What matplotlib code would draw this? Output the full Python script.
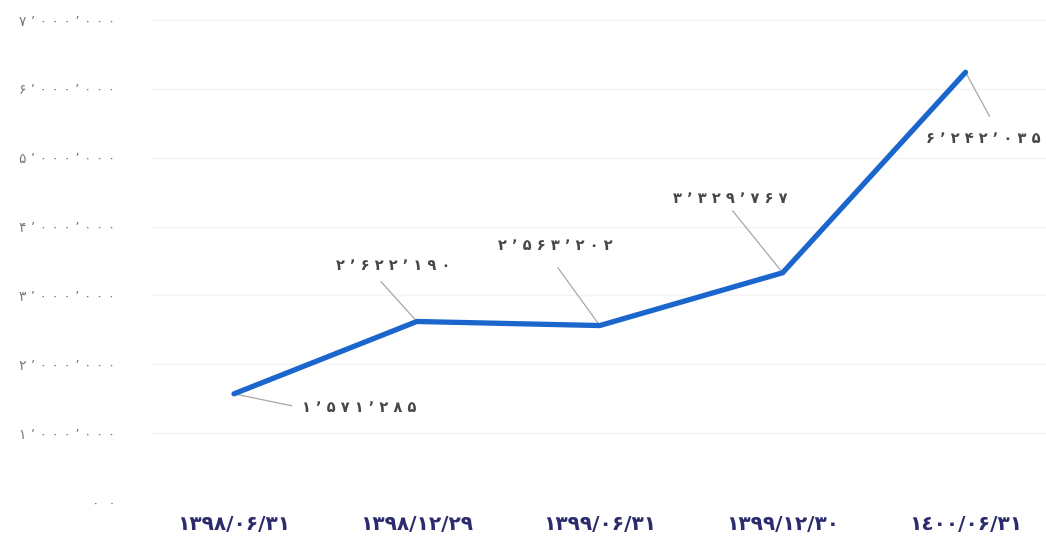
import matplotlib
matplotlib.use("Agg")
import matplotlib.pyplot as plt

plt.rcParams['font.family'] = ['DejaVu Sans']

# Reporting dates (Solar Hijri) and the values at each date
dates = ["۱۳۹۸/۰۶/۳۱", "۱۳۹۸/۱۲/۲۹", "۱۳۹۹/۰۶/۳۱", "۱۳۹۹/۱۲/۳۰", "۱٤۰۰/۰۶/۳۱"]
values = [1571285, 2622190, 2563202, 3329767, 6242035]

y_ticks = [0, 1000000, 2000000, 3000000, 4000000, 5000000, 6000000, 7000000]

# Label offsets (pixels) from each point, with alignment
label_offsets = [(68, -14), (-24, 56), (-44, 80), (-52, 74), (75, -66)]
label_align = ["left", "center", "center", "center", "right"]
line_ends = [(58, -12), (-36, 40), (-42, 58), (-50, 62), (24, -44)]

PERSIAN = str.maketrans("0123456789", "۰۱۲۳۴۵۶۷۸۹")


def fa_number(v):
    s = f"{v:,}".replace(",", "٬")
    return s.translate(PERSIAN)


def spaced(s, gap=" "):
    return gap.join(s)


fig = plt.figure(figsize=(10.46, 5.42), dpi=100)
ax = fig.add_axes([0.145, 0.0738, 0.855, 0.898])

x = list(range(len(dates)))
ax.plot(x, values, color="#1a66cc", linewidth=3.8, solid_capstyle="round",
        solid_joinstyle="miter", zorder=3)

ax.set_xlim(-0.45, 4.44)
ax.set_ylim(0, 7070000)

ax.set_yticks(y_ticks)
ylabels = []
for t in y_ticks:
    if t == 0:
        ylabels.append("۰  ۰")
    else:
        ylabels.append(spaced(fa_number(t), " "))
ax.set_yticklabels(ylabels, color="#7a7a7a", fontsize=10)
ax.set_xticks(x)
ax.set_xticklabels(dates, color="#2b2b6e", fontsize=14.5, fontweight="bold")

ax.tick_params(axis="y", length=0, pad=26)
ax.tick_params(axis="x", length=0, pad=9)
ax.grid(axis="y", color="#f4f4f4", linewidth=1)
for sp in ax.spines.values():
    sp.set_visible(False)

for i, v in enumerate(values):
    dx, dy = label_offsets[i]
    ax.annotate(spaced(fa_number(v), " "), xy=(i, v), xytext=(dx, dy),
                textcoords="offset pixels", ha=label_align[i], va="center",
                fontsize=10.5, fontweight="bold", color="#474747", zorder=4)
    lx, ly = line_ends[i]
    ax.annotate("", xy=(i, v), xytext=(lx, ly), textcoords="offset pixels",
                arrowprops=dict(arrowstyle="-", color="#a8a8a8", lw=0.9,
                                shrinkA=0, shrinkB=0), zorder=2)

fig.savefig("out.png", dpi=100)
